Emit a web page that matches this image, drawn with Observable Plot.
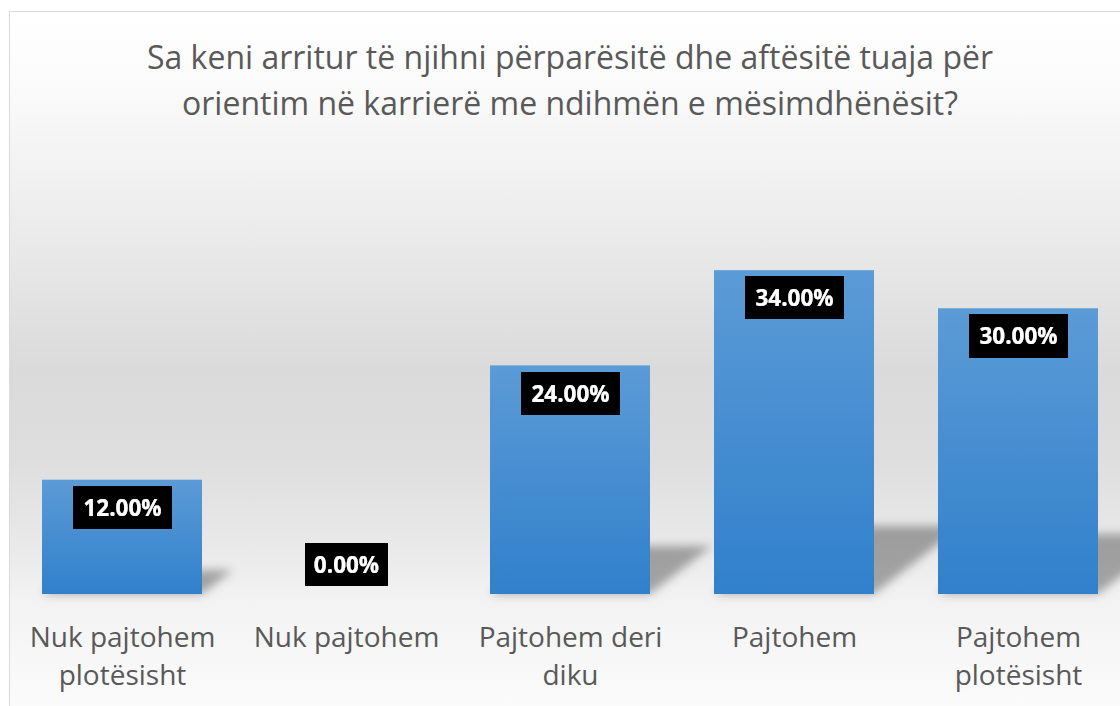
<!DOCTYPE html>
<html>
<head>
<meta charset="utf-8">
<script src="https://cdn.jsdelivr.net/npm/d3@7"></script>
<script src="https://cdn.jsdelivr.net/npm/@observablehq/plot@0.6"></script>
<style>
  html, body { margin: 0; padding: 0; background: #fff; overflow: hidden; }
  #page { position: relative; width: 1120px; height: 706px; overflow: hidden; }
  #frame { position: absolute; left: 9px; top: 11px; width: 1140px; height: 720px;
    border: 1.5px solid #d9d9d9;
    background: linear-gradient(to bottom, #ffffff 0%, #fbfbfb 10%, #eeeeee 27%, #dadada 50%, #dedede 62%, #eaeaea 75%, #f3f3f3 82%, #fdfdfd 100%); }
  #title { position: absolute; left: 0; width: 1140px; top: 34px; text-align: center;
    font-family: "Open Sans", sans-serif; font-size: 32px; line-height: 46px; color: #595959; }
  #chart { position: absolute; left: 0; top: 0; }
</style>
</head>
<body>
<svg width="0" height="0" style="position:absolute">
  <defs>
    <linearGradient id="barGrad" x1="0" y1="0" x2="0" y2="1">
      <stop offset="0" stop-color="#5b9bd6"/>
      <stop offset="1" stop-color="#3180cc"/>
    </linearGradient>
    <filter id="blur" x="-30%" y="-30%" width="160%" height="160%">
      <feGaussianBlur stdDeviation="5"/>
    </filter>
    <filter id="box" x="-0.125" y="-0.18" width="1.25" height="1.36">
      <feFlood flood-color="#000"/>
      <feMerge><feMergeNode/><feMergeNode in="SourceGraphic"/></feMerge>
    </filter>
  </defs>
</svg>
<div id="page">
  <div id="frame"></div>
  <div id="title">Sa keni arritur të njihni përparësitë dhe aftësitë tuaja për<br>orientim në karrierë me ndihmën e mësimdhënësit?</div>
  <div id="chart"></div>
</div>
<script>
const categories = ["Nuk pajtohem\nplotësisht", "Nuk pajtohem", "Pajtohem deri\ndiku", "Pajtohem", "Pajtohem\nplotësisht"];
const values = [12, 0, 24, 34, 30];
const valueLabels = ["12.00%", "0.00%", "24.00%", "34.00%", "30.00%"];

const data = categories.map((c, i) => ({cat: c, value: values[i], label: valueLabels[i]}));
const font = "'Open Sans', sans-serif";

const chart = Plot.plot({
  width: 1120,
  height: 706,
  marginTop: 213,
  marginBottom: 112,
  marginLeft: 9,
  marginRight: 0,
  style: {background: "transparent", overflow: "visible", fontFamily: font},
  x: {domain: categories, range: [9, 1131], paddingInner: 0.287, paddingOuter: 0.1435, axis: null},
  y: {domain: [0, 40], axis: null},
  marks: [
    Plot.barY(data, {x: "cat", y: "value", fill: "#000", fillOpacity: 0.32}),
    Plot.barY(data, {x: "cat", y: "value", fill: "url(#barGrad)"}),
    Plot.text(data.filter(d => d.value > 0), {x: "cat", y: "value", text: "label", dy: 28.5,
      fill: "white", fontWeight: "bold", fontSize: 22.5, fontFamily: font}),
    Plot.text(data.filter(d => d.value === 0), {x: "cat", y: "value", text: "label", dy: -28.5,
      fill: "white", fontWeight: "bold", fontSize: 22.5, fontFamily: font}),
    Plot.text(data, {x: "cat", frameAnchor: "bottom", text: "cat", lineAnchor: "top", dy: 26,
      lineHeight: 1.34, fontSize: 28, fill: "#595959", fontFamily: font})
  ]
});
document.getElementById("chart").appendChild(chart);

// mark groups in drawing order
const groups = Array.from(chart.children).filter(n => n.tagName.toLowerCase() === "g");
const [shadowG, barG, lab1G, lab2G] = groups;

// perspective shadow: squash and skew the shadow bars about the baseline
const Y0 = chart.scale("y").apply(0);
const wrap = document.createElementNS("http://www.w3.org/2000/svg", "g");
wrap.setAttribute("filter", "url(#blur)");
shadowG.parentNode.insertBefore(wrap, shadowG);
wrap.appendChild(shadowG);
const kx = 0.27, ky = 0.21;
shadowG.setAttribute("transform", `matrix(1,0,${-kx},${ky},${kx * Y0},${(1 - ky) * Y0})`);

// black boxes behind data labels
[lab1G, lab2G].forEach(g => g.querySelectorAll("text").forEach(t => t.setAttribute("filter", "url(#box)")));
</script>
</body>
</html>
